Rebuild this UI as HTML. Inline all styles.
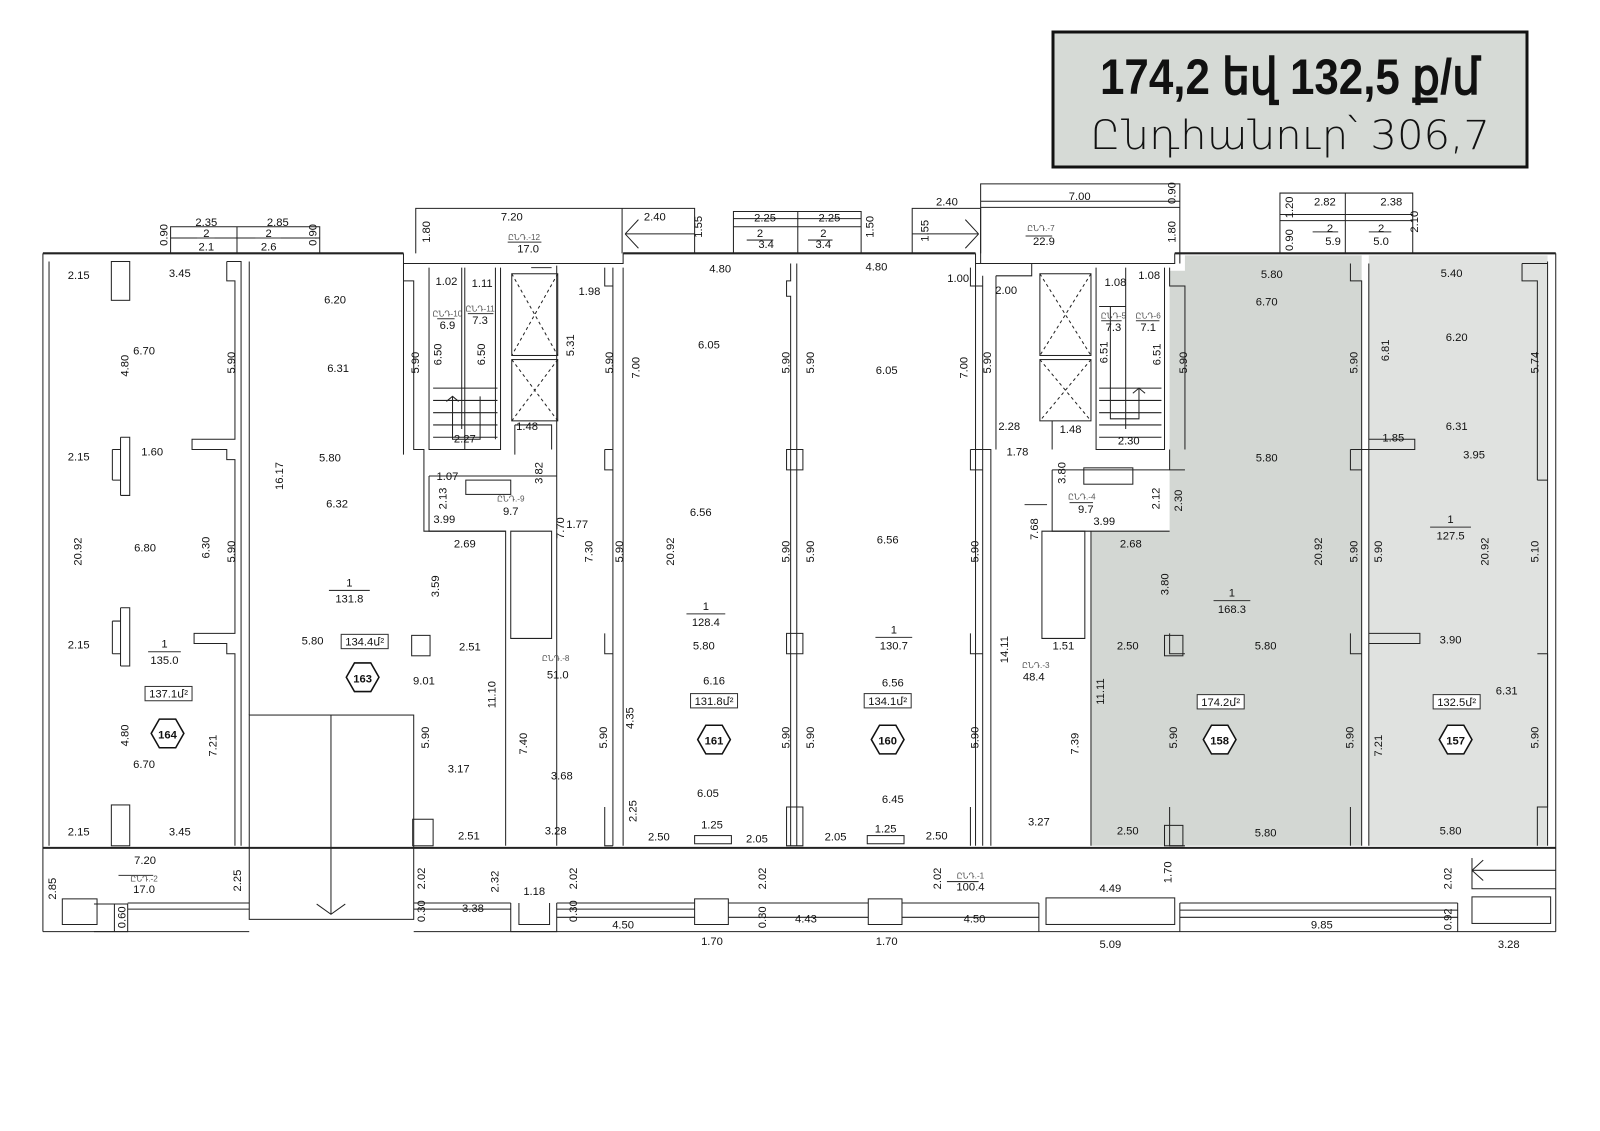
<!DOCTYPE html>
<html><head><meta charset="utf-8">
<style>
html,body{margin:0;padding:0;background:#fff;}
svg{display:block;}
text{font-family:"Liberation Sans",sans-serif;font-size:11px;fill:#111;text-anchor:middle;}
.s{font-size:8px;fill:#555;}
.t{font-size:11.5px;}
</style></head><body>
<svg width="1600" height="1131" viewBox="0 0 1600 1131" xmlns="http://www.w3.org/2000/svg">
<rect x="1053" y="32" width="474" height="135" fill="#d6dad6" stroke="#111" stroke-width="3"/>
<text x="1290" y="94" style="font-size:50px;font-weight:bold;font-family:'Liberation Sans Narrow','Liberation Sans',sans-serif;" textLength="380" lengthAdjust="spacingAndGlyphs">174,2 եվ 132,5 ք/մ</text>
<text x="1290" y="149" style="font-size:40px;font-family:'DejaVu Sans','Liberation Sans',sans-serif;font-weight:200" textLength="400" lengthAdjust="spacingAndGlyphs">Ընդհանուր՝ 306,7</text>

<g transform="scale(1.0215)">
<!-- fills -->
<polygon points="1160,250 1333,250 1333,828 1068,828 1068,520 1145,520 1145,265 1160,265" fill="#d3d7d3"/>
<rect x="1340" y="250" width="175" height="578" fill="#e0e2e0"/>
<g fill="none" stroke="#222" stroke-width="1">
<!-- outer -->
<path d="M42 248 H395 M610 248 H955 M1150 248 H1523" stroke-width="2"/>
<path d="M395 248 V258 H610 V248 M955 248 V258 H1150 V248"/>
<path d="M42 248 V912 M48 256 V828 M1523 248 V912 M1515 256 V828"/>
<path d="M42 830 H1523" stroke-width="2"/>
<path d="M42 912 H244 M405 912 H1523"/>
<!-- wall 164/163 -->
<path d="M222 256 H236 V828 M222 256 V275 H230 V430 H188 V440 H222 V450 H230 V620 H190 V630 H222 V640 H230 V828"/>
<path d="M244 256 V700"/>
<!-- T columns left room -->
<rect x="109" y="256" width="18" height="38"/>
<path d="M118 428 V485 M110 440 H118 M110 470 H118 M110 440 V470 M118 428 H127 V485 H118"/>
<path d="M118 595 V652 M110 608 V640 M110 608 H118 M110 640 H118 M118 595 H127 V652 H118"/>
<rect x="109" y="788" width="18" height="40"/>
<!-- wall 163/stair -->
<path d="M395 258 V275 H405 V440 H415 V520 H495 V828 M395 275 V445"/>
<rect x="403" y="622" width="18" height="20"/>
<rect x="404" y="802" width="20" height="26"/>
<!-- stair block 1 -->
<path d="M420 262 V440 H490 V262 M452 262 V420 M424 380 H487 M424 392 H487 M424 404 H487 M424 416 H487 M424 428 H487"/>
<path d="M455 262 V440 M485 262 V430"/>
<path d="M443 388 V430 H470 V388 M437 393 L443 388 L449 393"/>
<rect x="501" y="268" width="45" height="80"/><rect x="501" y="352" width="45" height="60"/>
<path d="M501 268 L546 348 M546 268 L501 348 M501 352 L546 412 M546 352 L501 412" stroke-dasharray="3,3"/>
<path d="M504 416 H540 V440 M504 416 V445 M420 466 H545 M420 466 V520 H495"/>
<rect x="456" y="470" width="44" height="14"/>
<path d="M500 520 V625 H540 V520 Z"/>
<path d="M545 260 V828 M600 262 V828 M610 262 V828"/>
<path d="M592 262 V280 H600 M592 440 H600 M592 440 V460 H600 M592 620 V640 H600 M592 790 V828 H600"/>
<!-- 161/160 wall -->
<path d="M774 258 V275 H770 V290 H774 V828 M780 258 V828 M770 440 H786 V460 H770 Z M770 620 H786 V640 H770 Z M770 790 H786 V828 H770 Z"/>
<rect x="680" y="818" width="36" height="8"/><rect x="849" y="818" width="36" height="8"/>
<!-- 160/stair2 -->
<path d="M955 258 V828 M962 270 V828 M950 262 V280 H962 M950 440 H970 V828 M950 440 V460 H962 M950 620 V640 H962 M950 790 V828"/>
<path d="M975 270 V440 M975 270 H1010 V258"/>
<rect x="1018" y="268" width="50" height="80"/><rect x="1018" y="352" width="50" height="60"/>
<path d="M1018 268 L1068 348 M1068 268 L1018 348 M1018 352 L1068 412 M1068 352 L1018 412" stroke-dasharray="3,3"/>
<path d="M1073 262 V440 H1140 V262 M1102 262 V420 M1076 300 H1102 M1076 380 H1137 M1076 392 H1137 M1076 404 H1137 M1076 416 H1137 M1076 428 H1137"/>
<path d="M1087 300 V410 H1115 V380 M1109 385 L1115 380 L1121 385"/>
<path d="M1030 412 V440 M1030 460 V520 H1145 M1030 460 H1145"/>
<rect x="1061" y="458" width="48" height="16"/>
<path d="M1020 520 V625 H1062 V520 Z M1068 520 V828"/>
<path d="M1145 262 V280 H1160 V440 M1145 440 V460 H1160 M1145 620 V640 H1160 M1145 790 V828 H1160"/>
<!-- 158/157 wall -->
<path d="M1322 258 V275 H1333 V828 M1340 258 V828 M1322 440 H1340 M1322 440 V460 H1333 M1340 430 H1385 V440 H1340 M1322 620 V640 H1333 M1340 620 H1390 V630 H1340 M1322 790 V828"/>
<rect x="1140" y="622" width="18" height="20"/><rect x="1140" y="808" width="18" height="20"/>
<path d="M1490 258 H1515 M1490 258 V275 H1505 V470 M1505 470 H1515 M1505 640 H1515 V790 H1505 V828"/>
<!-- balconies top -->
<path d="M167 248 V222 H313 V248 M167 233 H313 M232 222 V248"/>
<path d="M407 248 V204 H609 V248 M609 204 V248 M609 204 H680 V248 M612 229 H680 M612 229 L625 215 M612 229 L625 243"/>
<path d="M718 248 V207 H843 V248 M718 214 H843 M718 222 H843 M781 207 V248"/>
<path d="M893 248 V204 H960 V248 M893 229 H958 M958 229 L945 215 M958 229 L945 243"/>
<path d="M960 258 V180 H1155 V258 M960 197 H1155 M960 203 H1155"/>
<path d="M1253 248 V189 H1383 V248 M1253 210 H1383 M1253 216 H1383 M1317 189 V248"/>
<!-- corridor -->
<rect x="244" y="700" width="161" height="200"/>
<path d="M324 700 V895 M310 885 L324 895 L338 885"/>
<path d="M61 880 H95 V905 H61 Z M92 885 H125 V912 H92 M112 885 V912 M125 884 H244 M125 890 H244"/>
<path d="M405 884 H500 M405 890 H500 M500 884 V912 H545 V884 M508 884 V905 H538 V884 M545 884 H680 M545 890 H680 M545 898 H680 M680 880 H713 V905 H680 Z M713 884 H850 M713 898 H850 M850 880 H883 V905 H850 Z M883 884 H1017 M883 898 H1017 M1017 884 V912"/>
<rect x="1024" y="879" width="126" height="26"/>
<path d="M1155 884 H1427 M1155 891 H1427 M1155 898 H1427 M1155 884 V912 M1427 884 V912"/>
<rect x="1441" y="878" width="77" height="26"/>
<path d="M1441 840 V870 H1523 M1441 852 H1523 M1441 852 L1452 842 M1441 852 L1452 862"/>
</g>
<!-- hexagons -->
<g fill="#fff" stroke="#111" stroke-width="1.5">
<polygon points="148,718 156,704 172,704 180,718 172,732 156,732"/>
<polygon points="339,663 347,649 363,649 371,663 363,677 347,677"/>
<polygon points="683,724 691,710 707,710 715,724 707,738 691,738"/>
<polygon points="853,724 861,710 877,710 885,724 877,738 861,738"/>
<polygon points="1178,724 1186,710 1202,710 1210,724 1202,738 1186,738"/>
<polygon points="1409,724 1417,710 1433,710 1441,724 1433,738 1417,738"/>
</g>
<g style="font-weight:bold;font-size:13px">
<text x="164" y="723">164</text><text x="355" y="668">163</text><text x="699" y="729">161</text><text x="869" y="729">160</text><text x="1194" y="729">158</text><text x="1425" y="729">157</text>
</g>
<g fill="#fff" stroke="#333">
<rect x="142" y="672" width="46" height="14"/><rect x="334" y="621" width="46" height="14"/><rect x="676" y="679" width="46" height="14"/><rect x="846" y="679" width="46" height="14"/><rect x="1172" y="680" width="46" height="14"/><rect x="1403" y="680" width="46" height="14"/>
</g>
<g style="font-size:9px">
<text x="165" y="683">137.1մ²</text><text x="357" y="632">134.4մ²</text><text x="699" y="690">131.8մ²</text><text x="869" y="690">134.1մ²</text><text x="1195" y="691">174.2մ²</text><text x="1426" y="691">132.5մ²</text>
</g>
<!-- fraction lines -->
<g stroke="#333"><path d="M145 638 H177 M322 578 H362 M672 601 H710 M857 624 H893 M1188 588 H1224 M1400 516 H1440 M497 237 H530 M116 857 H150 M927 863 H958 M1047 492 H1070 M193 233 H210 M250 233 H275 M731 235 H757 M791 235 H815 M1285 227 H1310 M1340 227 H1362 M1004 231 H1030 M1078 314 H1098 M1112 314 H1135 M428 312 H445 M458 307 H483 M520 262 H540 M1003 494 H1025"/></g>
<text x="161" y="634">1</text><text x="161" y="650">135.0</text>
<text x="342" y="574">1</text><text x="342" y="590">131.8</text>
<text x="691" y="597">1</text><text x="691" y="613">128.4</text>
<text x="875" y="620">1</text><text x="875" y="636">130.7</text>
<text x="1206" y="584">1</text><text x="1206" y="600">168.3</text>
<text x="1420" y="512">1</text><text x="1420" y="528">127.5</text>
<text class="s" x="513" y="235">ԸՆԴ.-12</text><text x="517" y="247">17.0</text>
<text class="s" x="1019" y="226">ԸՆԴ.-7</text><text x="1022" y="240">22.9</text>
<text class="s" x="438" y="310">ԸՆԴ-10</text><text x="438" y="322">6.9</text>
<text class="s" x="470" y="305">ԸՆԴ-11</text><text x="470" y="317">7.3</text>
<text class="s" x="500" y="491">ԸՆԴ.-9</text><text x="500" y="504">9.7</text>
<text class="s" x="1059" y="489">ԸՆԴ.-4</text><text x="1063" y="502">9.7</text>
<text class="s" x="1090" y="312">ԸՆԴ-5</text><text x="1090" y="324">7.3</text>
<text class="s" x="1124" y="312">ԸՆԴ-6</text><text x="1124" y="324">7.1</text>
<text class="s" x="544" y="647">ԸՆԴ.-8</text><text x="546" y="664">51.0</text>
<text class="s" x="1014" y="654">ԸՆԴ.-3</text><text x="1012" y="666">48.4</text>
<text class="s" x="141" y="863">ԸՆԴ.-2</text><text x="141" y="874">17.0</text>
<text class="s" x="950" y="860">ԸՆԴ.-1</text><text x="950" y="872">100.4</text>
<text x="202" y="232">2</text><text x="202" y="245">2.1</text><text x="263" y="232">2</text><text x="263" y="245">2.6</text>
<text x="744" y="232">2</text><text x="750" y="243">3.4</text><text x="806" y="232">2</text><text x="806" y="243">3.4</text>
<text x="1302" y="227">2</text><text x="1305" y="240">5.9</text><text x="1352" y="227">2</text><text x="1352" y="240">5.0</text>
<!-- horizontal dims -->
<text x="202" y="221">2.35</text><text x="272" y="221">2.85</text><text x="501" y="216">7.20</text><text x="641" y="216">2.40</text>
<text x="749" y="217">2.25</text><text x="812" y="217">2.25</text><text x="927" y="201">2.40</text><text x="1057" y="196">7.00</text>
<text x="1297" y="201">2.82</text><text x="1362" y="201">2.38</text>
<text x="77" y="273">2.15</text><text x="176" y="271">3.45</text><text x="328" y="297">6.20</text><text x="141" y="347">6.70</text><text x="331" y="364">6.31</text>
<text x="77" y="451">2.15</text><text x="149" y="446">1.60</text><text x="323" y="452">5.80</text><text x="330" y="497">6.32</text>
<text x="142" y="540">6.80</text><text x="77" y="635">2.15</text><text x="306" y="631">5.80</text><text x="141" y="752">6.70</text>
<text x="77" y="818">2.15</text><text x="176" y="818">3.45</text><text x="142" y="846">7.20</text>
<text x="437" y="279">1.02</text><text x="472" y="281">1.11</text><text x="577" y="289">1.98</text><text x="516" y="421">1.48</text><text x="455" y="433">2.27</text>
<text x="438" y="470">1.07</text><text x="435" y="512">3.99</text><text x="455" y="536">2.69</text><text x="565" y="517">1.77</text>
<text x="705" y="267">4.80</text><text x="858" y="265">4.80</text><text x="938" y="276">1.00</text><text x="985" y="288">2.00</text>
<text x="1092" y="280">1.08</text><text x="1125" y="273">1.08</text><text x="1048" y="424">1.48</text><text x="1105" y="435">2.30</text>
<text x="988" y="421">2.28</text><text x="996" y="446">1.78</text><text x="1081" y="514">3.99</text><text x="1107" y="536">2.68</text>
<text x="694" y="341">6.05</text><text x="868" y="366">6.05</text><text x="686" y="505">6.56</text><text x="869" y="532">6.56</text>
<text x="689" y="636">5.80</text><text x="699" y="670">6.16</text><text x="874" y="672">6.56</text><text x="693" y="780">6.05</text><text x="874" y="786">6.45</text>
<text x="697" y="811">1.25</text><text x="867" y="815">1.25</text><text x="645" y="823">2.50</text><text x="741" y="825">2.05</text><text x="818" y="823">2.05</text><text x="917" y="822">2.50</text>
<text x="460" y="637">2.51</text><text x="415" y="670">9.01</text><text x="449" y="756">3.17</text><text x="550" y="763">3.68</text><text x="459" y="822">2.51</text><text x="544" y="817">3.28</text>
<text x="1041" y="636">1.51</text><text x="1017" y="808">3.27</text><text x="1104" y="636">2.50</text><text x="1104" y="817">2.50</text>
<text x="1245" y="272">5.80</text><text x="1240" y="299">6.70</text><text x="1240" y="452">5.80</text><text x="1239" y="636">5.80</text><text x="1239" y="819">5.80</text>
<text x="1421" y="271">5.40</text><text x="1426" y="334">6.20</text><text x="1426" y="421">6.31</text><text x="1364" y="432">1.85</text><text x="1443" y="449">3.95</text>
<text x="1420" y="630">3.90</text><text x="1475" y="680">6.31</text><text x="1420" y="817">5.80</text>
<text x="523" y="876">1.18</text><text x="463" y="893">3.38</text><text x="610" y="909">4.50</text><text x="789" y="903">4.43</text><text x="954" y="903">4.50</text>
<text x="1087" y="873">4.49</text><text x="1294" y="909">9.85</text><text x="697" y="925">1.70</text><text x="868" y="925">1.70</text><text x="1087" y="928">5.09</text><text x="1477" y="928">3.28</text>
<!-- vertical dims -->
<g>
<text transform="translate(164,230) rotate(-90)">0.90</text><text transform="translate(310,230) rotate(-90)">0.90</text>
<text transform="translate(421,227) rotate(-90)">1.80</text><text transform="translate(687,222) rotate(-90)">1.55</text>
<text transform="translate(855,222) rotate(-90)">1.50</text><text transform="translate(909,226) rotate(-90)">1.55</text>
<text transform="translate(1151,189) rotate(-90)">0.90</text><text transform="translate(1151,227) rotate(-90)">1.80</text>
<text transform="translate(1266,203) rotate(-90)">1.20</text><text transform="translate(1266,235) rotate(-90)">0.90</text><text transform="translate(1388,217) rotate(-90)">2.10</text>
<text transform="translate(126,358) rotate(-90)">4.80</text><text transform="translate(230,355) rotate(-90)">5.90</text>
<text transform="translate(80,540) rotate(-90)">20.92</text><text transform="translate(205,536) rotate(-90)">6.30</text><text transform="translate(230,540) rotate(-90)">5.90</text>
<text transform="translate(126,720) rotate(-90)">4.80</text><text transform="translate(212,730) rotate(-90)">7.21</text>
<text transform="translate(277,466) rotate(-90)">16.17</text><text transform="translate(410,355) rotate(-90)">5.90</text>
<text transform="translate(432,347) rotate(-90)">6.50</text><text transform="translate(475,347) rotate(-90)">6.50</text><text transform="translate(562,338) rotate(-90)">5.31</text>
<text transform="translate(600,355) rotate(-90)">5.90</text><text transform="translate(626,360) rotate(-90)">7.00</text>
<text transform="translate(437,488) rotate(-90)">2.13</text><text transform="translate(531,463) rotate(-90)">3.82</text><text transform="translate(552,517) rotate(-90)">7.70</text>
<text transform="translate(580,540) rotate(-90)">7.30</text><text transform="translate(610,540) rotate(-90)">5.90</text><text transform="translate(660,540) rotate(-90)">20.92</text>
<text transform="translate(430,574) rotate(-90)">3.59</text><text transform="translate(485,680) rotate(-90)">11.10</text><text transform="translate(420,722) rotate(-90)">5.90</text>
<text transform="translate(516,728) rotate(-90)">7.40</text><text transform="translate(594,722) rotate(-90)">5.90</text><text transform="translate(620,703) rotate(-90)">4.35</text><text transform="translate(623,794) rotate(-90)">2.25</text>
<text transform="translate(773,355) rotate(-90)">5.90</text><text transform="translate(797,355) rotate(-90)">5.90</text><text transform="translate(773,540) rotate(-90)">5.90</text><text transform="translate(797,540) rotate(-90)">5.90</text>
<text transform="translate(773,722) rotate(-90)">5.90</text><text transform="translate(797,722) rotate(-90)">5.90</text>
<text transform="translate(947,360) rotate(-90)">7.00</text><text transform="translate(970,355) rotate(-90)">5.90</text><text transform="translate(958,540) rotate(-90)">5.90</text><text transform="translate(958,722) rotate(-90)">5.90</text>
<text transform="translate(1084,345) rotate(-90)">6.51</text><text transform="translate(1136,347) rotate(-90)">6.51</text>
<text transform="translate(1043,463) rotate(-90)">3.80</text><text transform="translate(1135,488) rotate(-90)">2.12</text><text transform="translate(1157,490) rotate(-90)">2.30</text>
<text transform="translate(1016,518) rotate(-90)">7.68</text><text transform="translate(987,636) rotate(-90)">14.11</text><text transform="translate(1081,677) rotate(-90)">11.11</text><text transform="translate(1056,728) rotate(-90)">7.39</text>
<text transform="translate(1144,572) rotate(-90)">3.80</text><text transform="translate(1162,355) rotate(-90)">5.90</text><text transform="translate(1152,722) rotate(-90)">5.90</text>
<text transform="translate(1294,540) rotate(-90)">20.92</text><text transform="translate(1329,355) rotate(-90)">5.90</text><text transform="translate(1329,540) rotate(-90)">5.90</text><text transform="translate(1325,722) rotate(-90)">5.90</text>
<text transform="translate(1360,343) rotate(-90)">6.81</text><text transform="translate(1353,540) rotate(-90)">5.90</text><text transform="translate(1353,730) rotate(-90)">7.21</text>
<text transform="translate(1457,540) rotate(-90)">20.92</text><text transform="translate(1506,355) rotate(-90)">5.74</text><text transform="translate(1506,540) rotate(-90)">5.10</text><text transform="translate(1506,722) rotate(-90)">5.90</text>
<text transform="translate(55,870) rotate(-90)">2.85</text><text transform="translate(236,862) rotate(-90)">2.25</text><text transform="translate(123,898) rotate(-90)">0.60</text>
<text transform="translate(416,860) rotate(-90)">2.02</text><text transform="translate(416,892) rotate(-90)">0.30</text><text transform="translate(488,863) rotate(-90)">2.32</text>
<text transform="translate(565,860) rotate(-90)">2.02</text><text transform="translate(565,892) rotate(-90)">0.30</text><text transform="translate(750,860) rotate(-90)">2.02</text><text transform="translate(750,898) rotate(-90)">0.30</text>
<text transform="translate(921,860) rotate(-90)">2.02</text><text transform="translate(1147,854) rotate(-90)">1.70</text><text transform="translate(1421,860) rotate(-90)">2.02</text><text transform="translate(1421,900) rotate(-90)">0.92</text>
</g>
</g>
</svg>
</body></html>
